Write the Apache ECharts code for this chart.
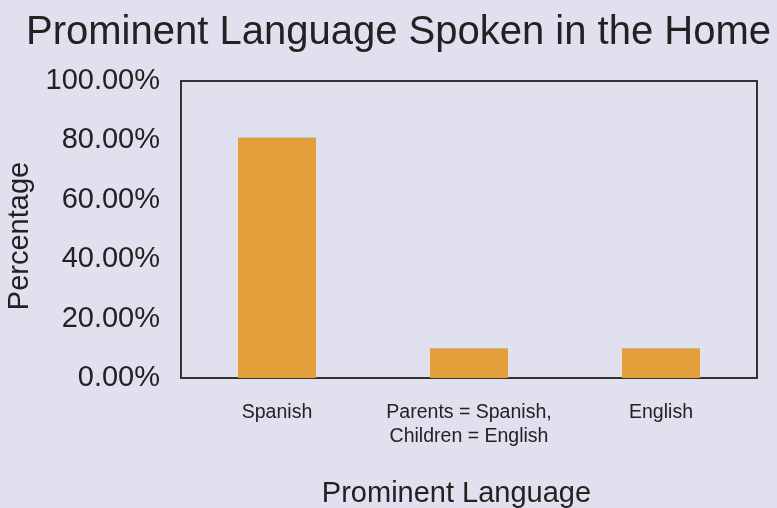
<!DOCTYPE html>
<html>
<head>
<meta charset="utf-8">
<script src="https://cdn.jsdelivr.net/npm/echarts@6/dist/echarts.min.js"></script>
<style>
html,body{margin:0;padding:0;background:#E0E0EE;}
#c{width:777px;height:508px;}
</style>
</head>
<body>
<div id="c"></div>
<script>
var categories = ["Spanish", "Parents = Spanish,\nChildren = English", "English"];
var values = [81, 10, 10];
var yTicks = [0, 20, 40, 60, 80, 100];

var chart = echarts.init(document.getElementById('c'), null, {renderer: 'canvas'});
var font = 'Liberation Sans, Arial, Helvetica, sans-serif';
chart.setOption({
  backgroundColor: '#E0E0EE',
  animation: false,
  title: {
    text: 'Prominent Language Spoken in the Home',
    left: 21, top: 8,
    textStyle: {fontFamily: font, fontSize: 40, fontWeight: 'normal', color: '#222'}
  },
  grid: {
    left: 181, top: 81, width: 576, height: 297,
    containLabel: false,
    outerBoundsMode: 'none',
    show: true, borderColor: '#333', borderWidth: 2, backgroundColor: 'transparent'
  },
  xAxis: {
    type: 'category',
    data: categories,
    name: 'Prominent Language',
    nameLocation: 'middle',
    nameGap: 101,
    nameTextStyle: {fontFamily: font, fontSize: 29, color: '#222', padding: [0, 25, 0, 0]},
    axisLine: {lineStyle: {color: '#333', width: 2}},
    axisTick: {show: false},
    axisLabel: {interval: 0, fontFamily: font, fontSize: 19.5, lineHeight: 24, color: '#222', margin: 23}
  },
  yAxis: {
    type: 'value',
    min: yTicks[0], max: yTicks[yTicks.length - 1], interval: 20,
    name: 'Percentage',
    nameLocation: 'middle',
    nameGap: 138,
    nameTextStyle: {fontFamily: font, fontSize: 29, color: '#222', padding: [0, 13, 0, 0]},
    axisLine: {show: true, lineStyle: {color: '#333', width: 2}},
    axisTick: {show: false},
    splitLine: {show: false},
    axisLabel: {
      fontFamily: font, fontSize: 29, color: '#222', margin: 21,
      formatter: function (v) { return v.toFixed(2) + '%'; }
    }
  },
  series: [{
    type: 'bar',
    data: values,
    barWidth: 78,
    itemStyle: {color: '#E3A03A'}
  }]
});
</script>
</body>
</html>
